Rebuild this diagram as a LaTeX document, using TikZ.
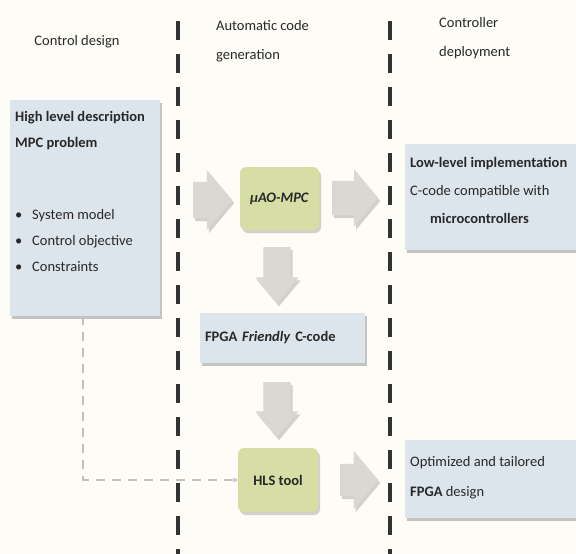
\documentclass[tikz,border=0pt]{standalone}
\usepackage{fontspec}
\setmainfont{Carlito}
\usetikzlibrary{shapes.arrows, shadows, positioning, calc, arrows.meta}
\definecolor{paper}{RGB}{253,252,246}
\definecolor{ink}{RGB}{40,40,40}
\definecolor{paleblue}{RGB}{221,229,236}
\definecolor{palegreen}{RGB}{214,222,166}
\definecolor{arrowgray}{RGB}{219,216,211}

\begin{document}
\begin{tikzpicture}[
    x=1pt, y=-1pt,
    every node/.style={text=ink, font=\fontsize{14.5}{26}\selectfont},
    header/.style={align=left, inner sep=0pt, font=\fontsize{14.5}{29}\selectfont},
    panel/.style={rectangle, fill=paleblue, inner sep=0pt, drop shadow={shadow xshift=2pt, shadow yshift=-3pt, fill=black!45}},
    tool/.style={rectangle, rounded corners=6pt, fill=palegreen, inner sep=0pt, align=center, font=\fontsize{14.5}{17}\selectfont\bfseries, drop shadow={shadow xshift=2pt, shadow yshift=-3pt, fill=black!35}},
    flow/.style={single arrow, anchor=tail, fill=arrowgray, inner xsep=0pt, inner ysep=18pt, single arrow head extend=12pt, single arrow tip angle=100, drop shadow={shadow xshift=2pt, shadow yshift=-3pt, fill=black!35}},
    dflow/.style={flow, shape border rotate=270, inner sep=13.5pt, single arrow head extend=8pt, single arrow tip angle=80},
    lane/.style={line width=4.5pt, black!80, dash pattern=on 19pt off 14pt},
    link/.style={line width=1.8pt, black!25, dash pattern=on 9pt off 7pt, -{Stealth[length=5pt, width=5pt]}},
]
    % Page
    \fill[paper] (0,0) rectangle (576,554);
    \useasboundingbox (0,0) rectangle (576,554);

    % Column headers
    \node[header] (hdesign) at (77,42) {Control design};
    \node[header, anchor=west] (hgen) at (216,41) {Automatic code\\generation};
    \node[header, anchor=west] (hdeploy) at (439,38) {Controller\\deployment};

    % Control design column
    \node[panel, anchor=north west, minimum width=150pt, minimum height=216pt] (spec) at (10,100) {};
    \node[anchor=north west, align=left, inner sep=0pt] (spectext) at ([shift={(5,11)}]spec.north west)
        {\textbf{High level description}\\\textbf{MPC problem}\\[46pt]
         \makebox[17pt][l]{•}System model\\
         \makebox[17pt][l]{•}Control objective\\
         \makebox[17pt][l]{•}Constraints};

    % Code generation column
    \node[tool, minimum width=79pt, minimum height=63pt] (uao) at (279.5,198.5) {\textit{µAO-MPC}};
    \node[panel, minimum width=165pt, minimum height=50pt, text width=155pt, align=left] (fpga) at (282.5,338) {\textbf{FPGA \textit{Friendly} C-code}};
    \node[tool, minimum width=80pt, minimum height=64pt] (hls) at (278,480) {HLS tool};

    % Deployment column
    \node[panel, anchor=north west, minimum width=176pt, minimum height=106pt] (lowlevel) at (405,144) {};
    \node[anchor=north west, align=left, inner sep=0pt, font=\fontsize{14.5}{28}\selectfont] (lowtext) at ([shift={(5,13)}]lowlevel.north west)
        {\textbf{Low-level implementation}\\C-code compatible with\\\hspace*{20pt}\textbf{microcontrollers}};
    \node[panel, anchor=north west, minimum width=176pt, minimum height=78pt] (fpgadesign) at (405,440) {};
    \node[anchor=north west, align=left, inner sep=0pt, font=\fontsize{14.5}{30}\selectfont] (designtext) at ([shift={(5,16)}]fpgadesign.north west)
        {Optimized and tailored\\\textbf{FPGA} design};

    % Block arrows
    \node[flow, minimum height=39pt] (a1) at (193,200) {};
    \node[flow, minimum height=46pt, inner ysep=17pt, single arrow head extend=11.5pt] (a2) at (332,198) {};
    \node[dflow, minimum height=56pt] (a3) at (277,247) {};
    \node[dflow, minimum height=55pt] (a4) at (277,382) {};
    \node[flow, minimum height=38pt, inner ysep=16pt, single arrow head extend=13pt] (a5) at (340,480) {};

    % Model fed to the HLS tool
    \draw[link] ([xshift=-2pt]spec.south) |- (hls.west);

    % Lanes
    \coordinate (lane1top) at (178,21);
    \coordinate (lane1bot) at (178,560);
    \coordinate (lane2top) at (390,21);
    \coordinate (lane2bot) at (390,560);
    \draw[lane] (lane1top) -- (lane1bot);
    \draw[lane] (lane2top) -- (lane2bot);
\end{tikzpicture}
\end{document}
